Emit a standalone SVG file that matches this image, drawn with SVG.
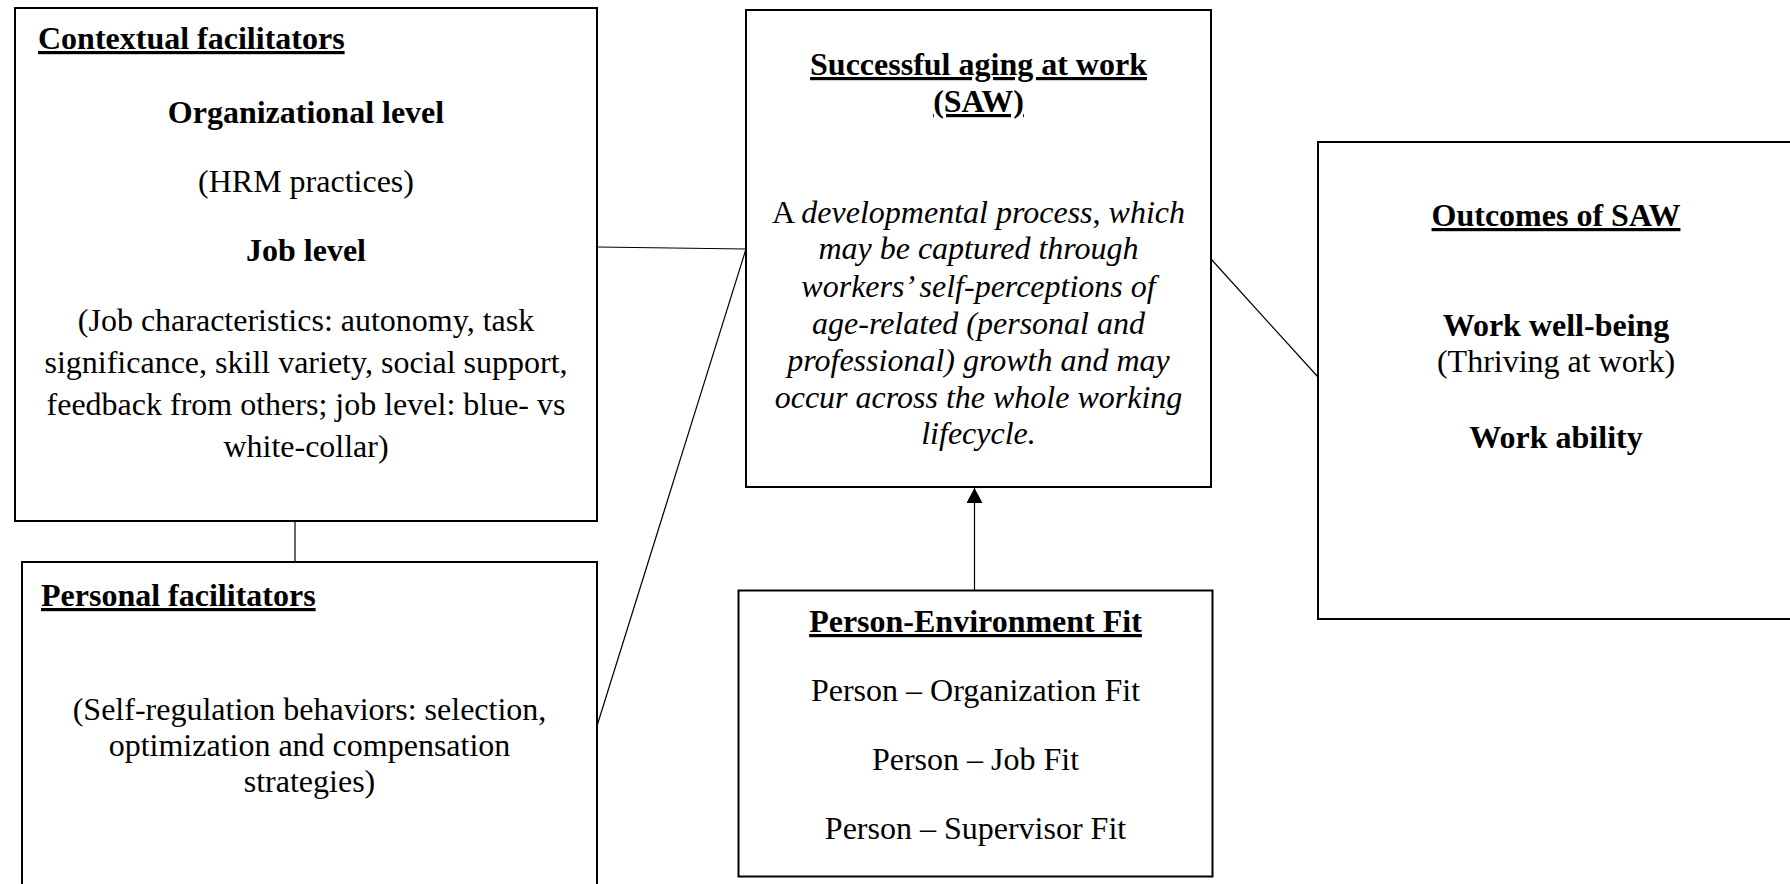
<svg xmlns="http://www.w3.org/2000/svg" width="1790" height="884" viewBox="0 0 1790 884">
<style>
  .box { fill: #ffffff; stroke: #000000; stroke-width: 2; }
  .conn { fill: none; stroke: #000000; stroke-width: 1.2; }
  text { font-family: "Liberation Serif", "Times New Roman", serif; font-size: 32px; fill: #000000; }
  .b { font-weight: bold; }
  .u { text-decoration: underline; }
  .i { font-style: italic; }
  .c { text-anchor: middle; }
</style>
<defs>
  <marker id="arrow" markerWidth="16" markerHeight="16" refX="15" refY="8" orient="auto" markerUnits="userSpaceOnUse">
    <path d="M0,0 L15,8 L0,16 Z" fill="#000000"/>
  </marker>
</defs>
<rect width="1790" height="884" fill="#ffffff"/>
<g id="connectors">
  <line class="conn" x1="295" y1="521" x2="295" y2="562"/>
  <line class="conn" x1="597" y1="247" x2="746" y2="249"/>
  <line class="conn" x1="597" y1="726" x2="746" y2="249"/>
  <line class="conn" x1="1211" y1="259" x2="1318" y2="377"/>
  <line class="conn" x1="974.5" y1="590" x2="974.5" y2="488" marker-end="url(#arrow)"/>
</g>
<g id="contextual">
  <rect class="box" x="15" y="8" width="582" height="513"/>
  <text class="b u" x="38" y="49">Contextual facilitators</text>
  <text class="b c" x="306" y="123">Organizational level</text>
  <text class="c" x="306" y="192">(HRM practices)</text>
  <text class="b c" x="306" y="261">Job level</text>
  <text class="c" x="306" y="331">(Job characteristics: autonomy, task</text>
  <text class="c" x="306" y="373">significance, skill variety, social support,</text>
  <text class="c" x="306" y="415">feedback from others; job level: blue- vs</text>
  <text class="c" x="306" y="457">white-collar)</text>
</g>
<g id="personal">
  <rect class="box" x="22" y="562" width="575" height="340"/>
  <text class="b u" x="41" y="606">Personal facilitators</text>
  <text class="c" x="309.5" y="720">(Self-regulation behaviors: selection,</text>
  <text class="c" x="309.5" y="756">optimization and compensation</text>
  <text class="c" x="309.5" y="792">strategies)</text>
</g>
<g id="saw">
  <rect class="box" x="746" y="10" width="465" height="477"/>
  <text class="b u c" x="978.5" y="75">Successful aging at work</text>
  <text class="b u c" x="978.5" y="112">(SAW)</text>
  <text class="c" x="978.5" y="223">A <tspan class="i">developmental process</tspan>, <tspan class="i">which</tspan></text>
  <text class="c i" x="978.5" y="259">may be captured through</text>
  <text class="c i" x="978.5" y="297">workers’ self-perceptions of</text>
  <text class="c i" x="978.5" y="334">age-related (personal and</text>
  <text class="c i" x="978.5" y="371">professional) growth and may</text>
  <text class="c i" x="978.5" y="408">occur across the whole working</text>
  <text class="c i" x="978.5" y="444">lifecycle.</text>
</g>
<g id="pefit">
  <rect class="box" x="738.5" y="590.5" width="474" height="286"/>
  <text class="b u c" x="975.5" y="632">Person-Environment Fit</text>
  <text class="c" x="975.5" y="701">Person – Organization Fit</text>
  <text class="c" x="975.5" y="770">Person – Job Fit</text>
  <text class="c" x="975.5" y="839">Person – Supervisor Fit</text>
</g>
<g id="outcomes">
  <rect class="box" x="1318" y="142" width="500" height="477"/>
  <text class="b u c" x="1556" y="226">Outcomes of SAW</text>
  <text class="b c" x="1556" y="336">Work well-being</text>
  <text class="c" x="1556" y="372">(Thriving at work)</text>
  <text class="b c" x="1556" y="448">Work ability</text>
</g>
</svg>
